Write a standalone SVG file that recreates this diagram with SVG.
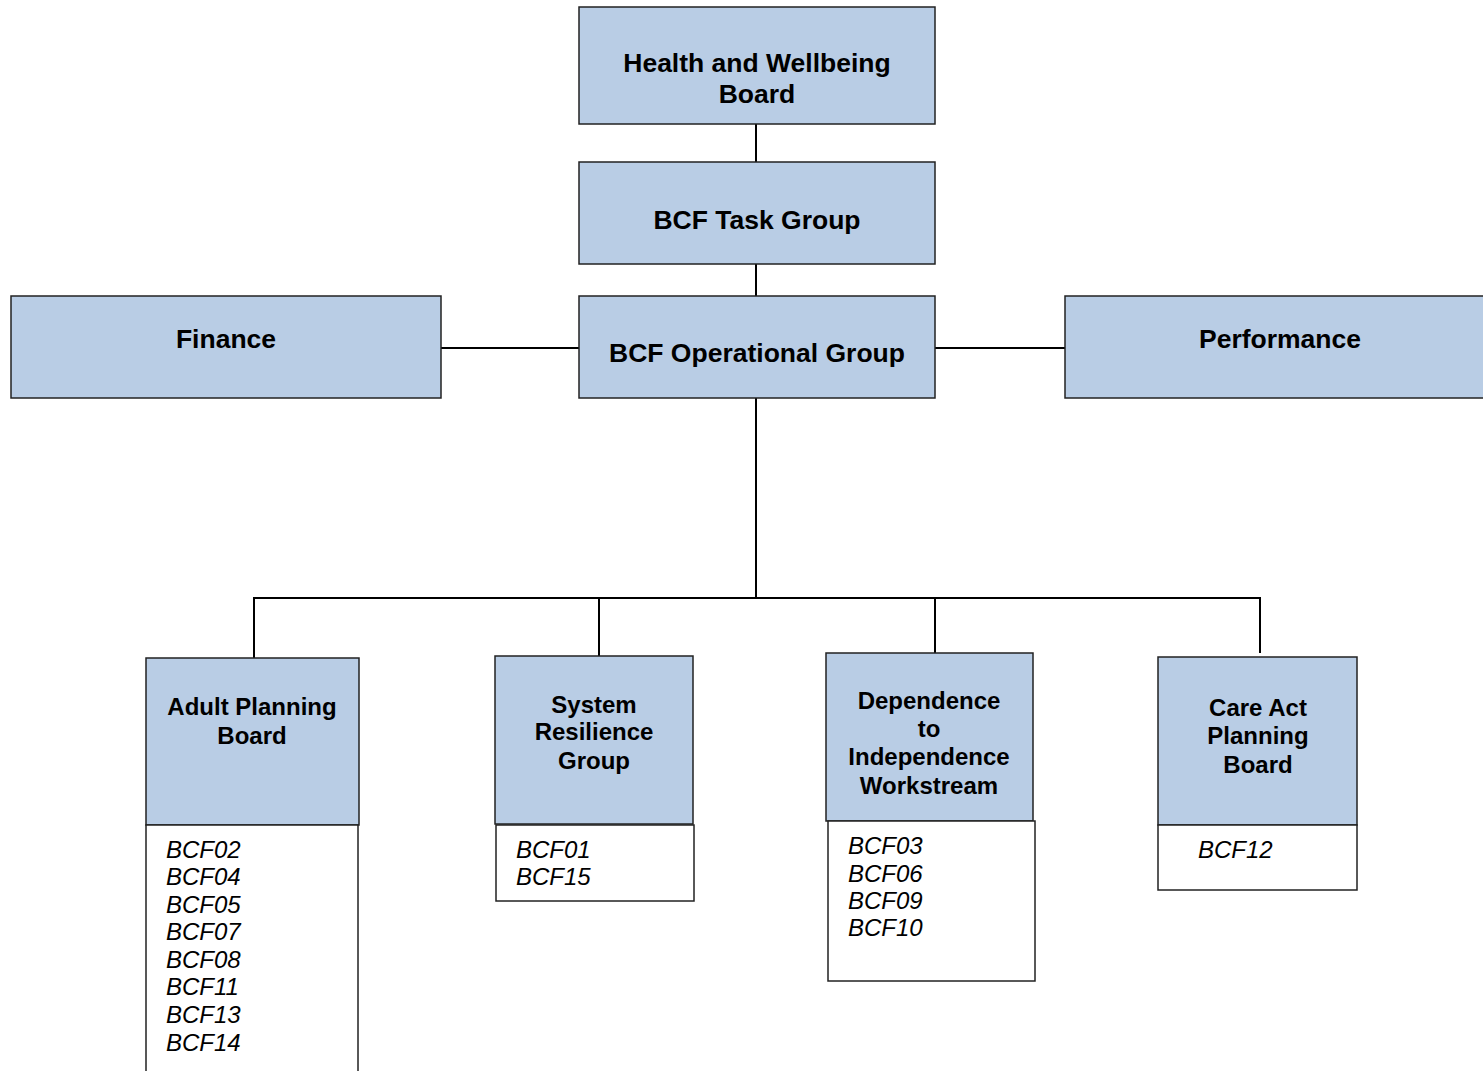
<svg xmlns="http://www.w3.org/2000/svg" width="1483" height="1071" viewBox="0 0 1483 1071">
<style>
.box{fill:#b9cde5;stroke:#222;stroke-width:1.5}
.list{fill:#fff;stroke:#222;stroke-width:1.5}
.t{font-family:"Liberation Sans",Arial,sans-serif;font-weight:bold;font-size:26.5px;fill:#000;text-anchor:middle}
.s{font-family:"Liberation Sans",Arial,sans-serif;font-weight:bold;font-size:24px;fill:#000;text-anchor:middle}
.i{font-family:"Liberation Sans",Arial,sans-serif;font-style:italic;font-size:24px;fill:#000}
.c{fill:none;stroke:#000;stroke-width:2}
</style>
<rect width="1483" height="1071" fill="#fff"/>
<g id="connectors">
<line class="c" x1="756" y1="124" x2="756" y2="162"/>
<line class="c" x1="756" y1="264" x2="756" y2="296"/>
<line class="c" x1="756" y1="398" x2="756" y2="598"/>
<line class="c" x1="441" y1="348" x2="579" y2="348"/>
<line class="c" x1="935" y1="348" x2="1065" y2="348"/>
<polyline class="c" points="254,658 254,598 1260,598 1260,653"/>
<line class="c" x1="599" y1="598" x2="599" y2="656"/>
<line class="c" x1="935" y1="598" x2="935" y2="653"/>
</g>
<g id="hwb">
<rect class="box" x="579" y="7" width="356" height="117"/>
<text class="t" x="757" y="72">Health and Wellbeing</text>
<text class="t" x="757" y="103">Board</text>
</g>
<g id="task">
<rect class="box" x="579" y="162" width="356" height="102"/>
<text class="t" x="757" y="229">BCF Task Group</text>
</g>
<g id="operational">
<rect class="box" x="579" y="296" width="356" height="102"/>
<text class="t" x="757" y="362">BCF Operational Group</text>
</g>
<g id="finance">
<rect class="box" x="11" y="296" width="430" height="102"/>
<text class="t" x="226" y="348">Finance</text>
</g>
<g id="performance">
<rect class="box" x="1065" y="296" width="430" height="102"/>
<text class="t" x="1280" y="348">Performance</text>
</g>
<g id="adult">
<rect class="box" x="146" y="658" width="213" height="167"/>
<rect class="list" x="146" y="825" width="212" height="260"/>
<text class="s" x="252" y="715">Adult Planning</text>
<text class="s" x="252" y="744">Board</text>
<text class="i" x="166" y="858">BCF02</text>
<text class="i" x="166" y="885">BCF04</text>
<text class="i" x="166" y="913">BCF05</text>
<text class="i" x="166" y="940">BCF07</text>
<text class="i" x="166" y="968">BCF08</text>
<text class="i" x="166" y="995">BCF11</text>
<text class="i" x="166" y="1023">BCF13</text>
<text class="i" x="166" y="1051">BCF14</text>
</g>
<g id="resilience">
<rect class="box" x="495" y="656" width="198" height="168"/>
<rect class="list" x="496" y="825" width="198" height="76"/>
<text class="s" x="594" y="713">System</text>
<text class="s" x="594" y="740">Resilience</text>
<text class="s" x="594" y="769">Group</text>
<text class="i" x="516" y="858">BCF01</text>
<text class="i" x="516" y="885">BCF15</text>
</g>
<g id="dependence">
<rect class="box" x="826" y="653" width="207" height="168"/>
<rect class="list" x="828" y="821" width="207" height="160"/>
<text class="s" x="929" y="709">Dependence</text>
<text class="s" x="929" y="737">to</text>
<text class="s" x="929" y="765">Independence</text>
<text class="s" x="929" y="794">Workstream</text>
<text class="i" x="848" y="854">BCF03</text>
<text class="i" x="848" y="882">BCF06</text>
<text class="i" x="848" y="909">BCF09</text>
<text class="i" x="848" y="936">BCF10</text>
</g>
<g id="careact">
<rect class="box" x="1158" y="657" width="199" height="168"/>
<rect class="list" x="1158" y="825" width="199" height="65"/>
<text class="s" x="1258" y="716">Care Act</text>
<text class="s" x="1258" y="744">Planning</text>
<text class="s" x="1258" y="773">Board</text>
<text class="i" x="1198" y="858">BCF12</text>
</g>
</svg>
